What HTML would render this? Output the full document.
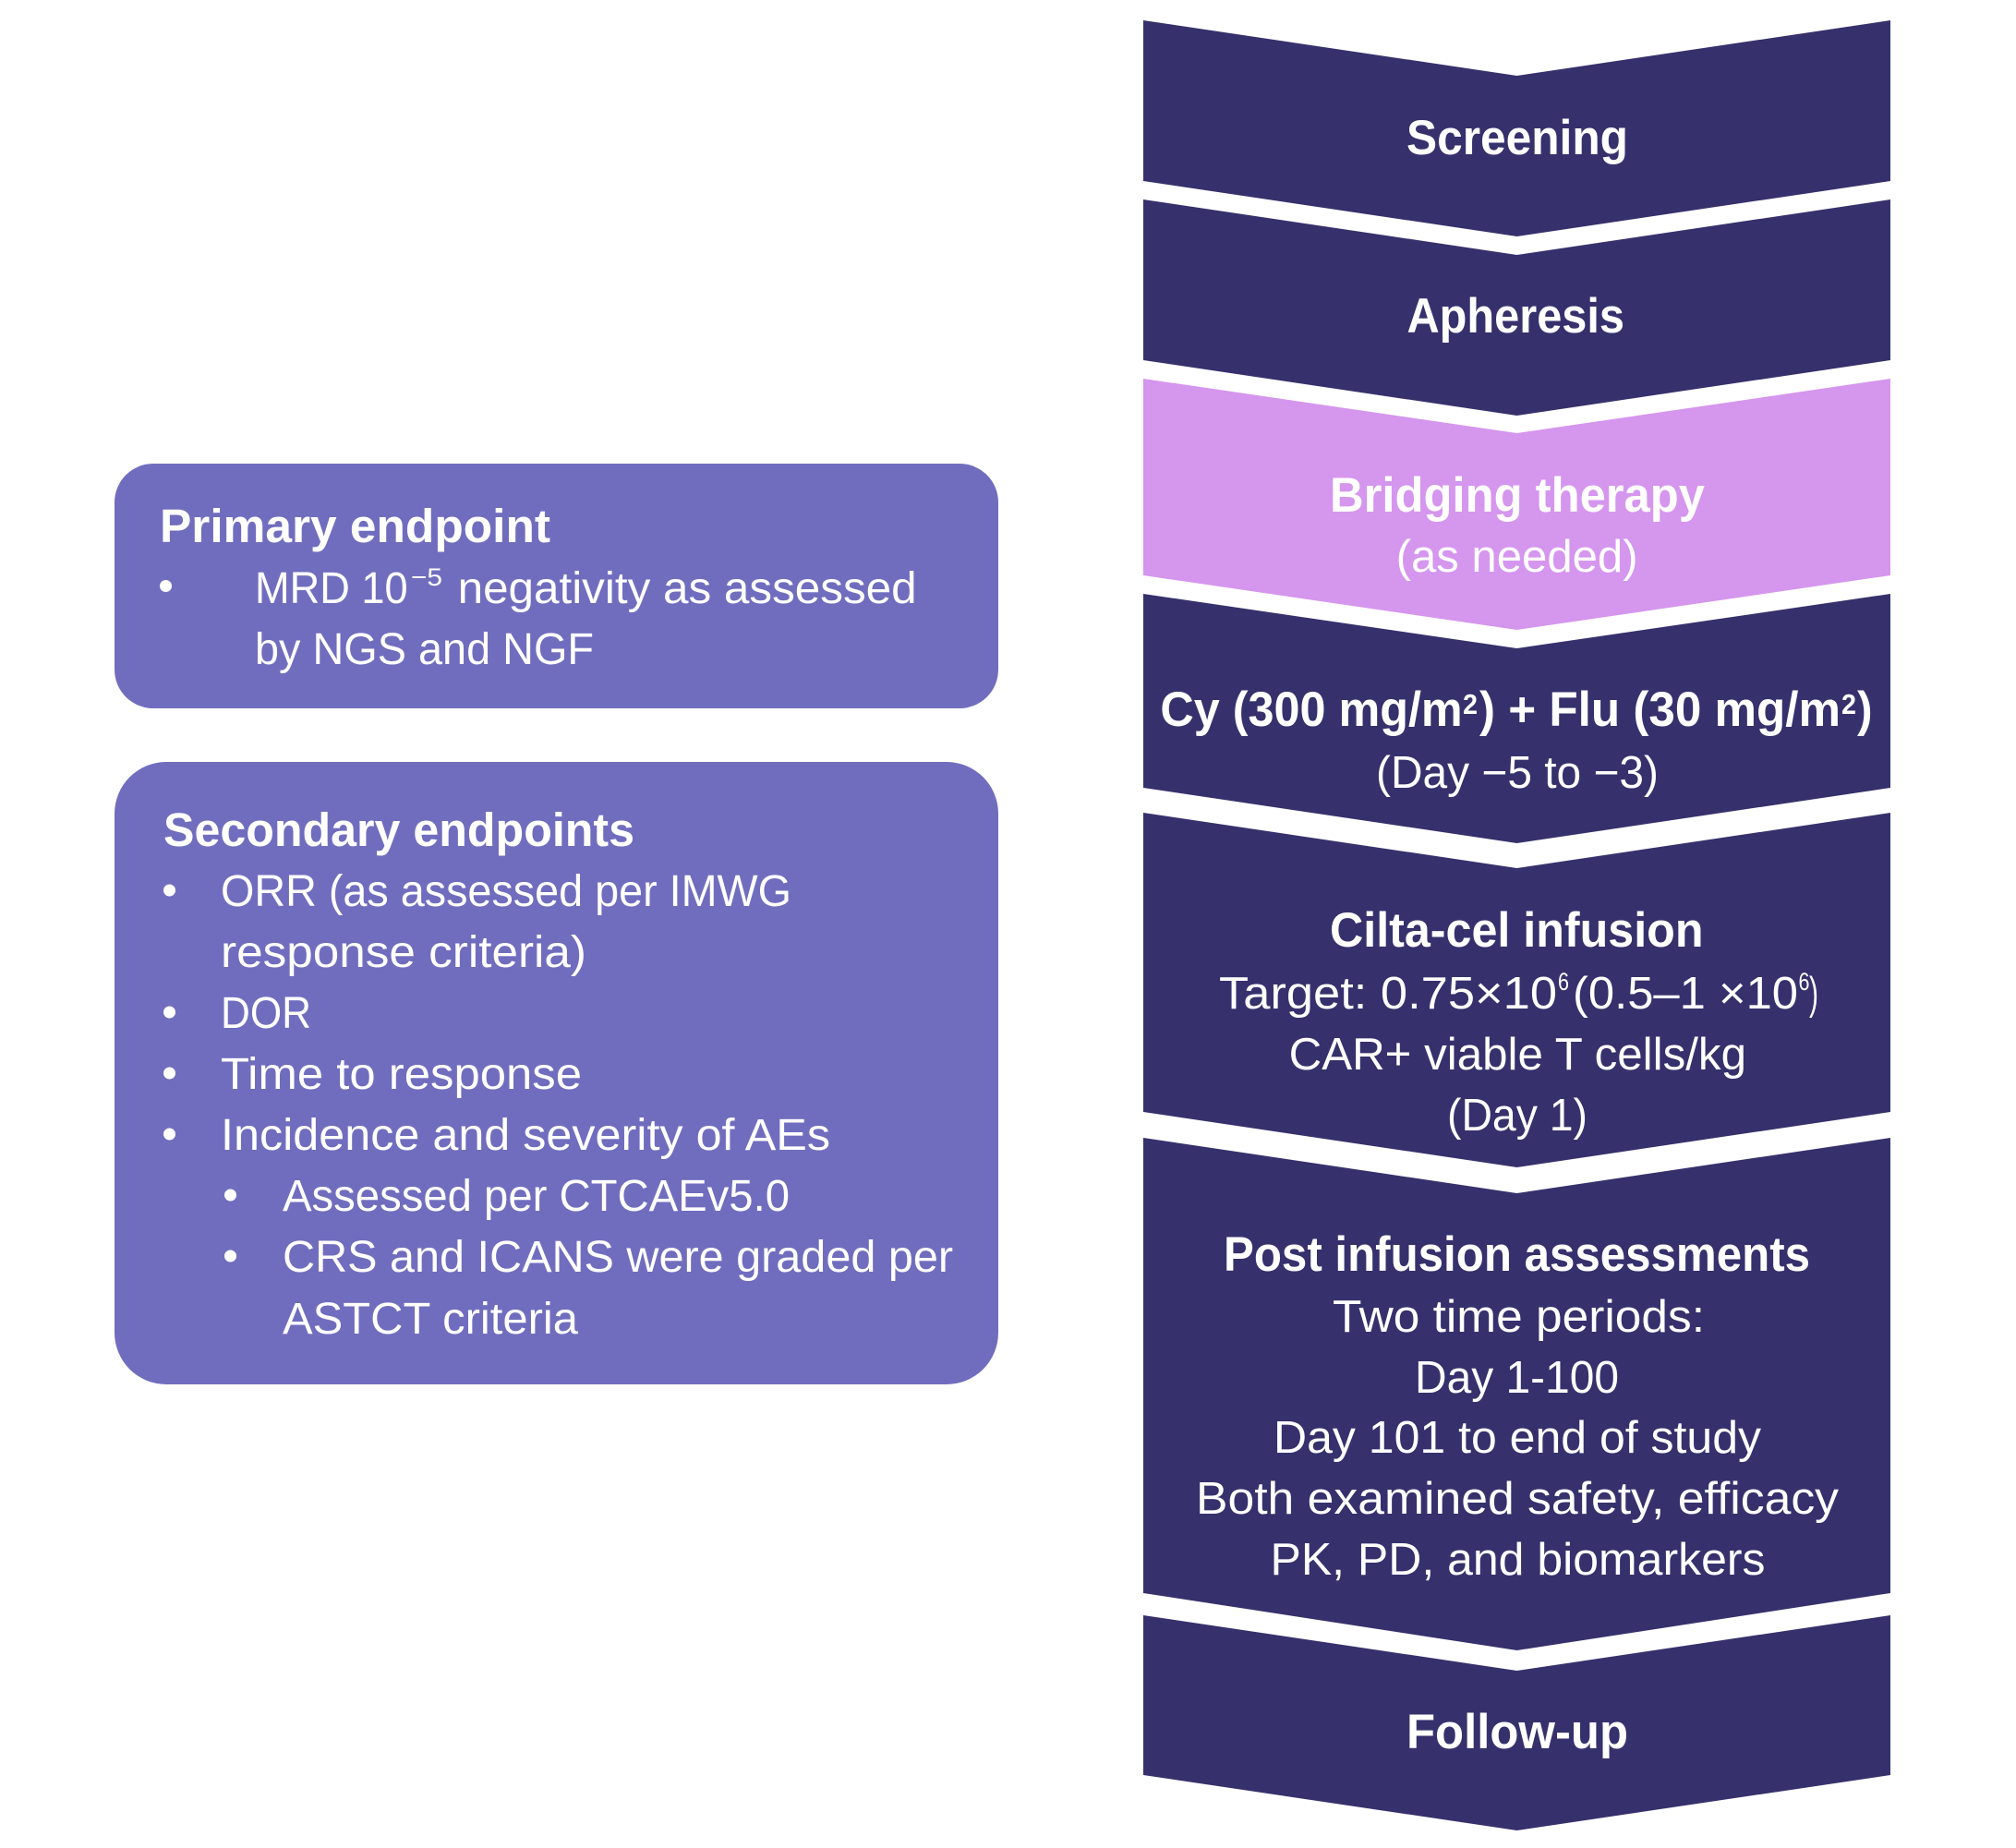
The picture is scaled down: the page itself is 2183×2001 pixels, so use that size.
<!DOCTYPE html>
<html>
<head>
<meta charset="utf-8">
<style>
  html,body{margin:0;padding:0;background:#ffffff;}
  svg{display:block;}
  text{font-family:"Liberation Sans", Arial, sans-serif; fill:#ffffff;}
  .b{font-weight:700;}
</style>
</head>
<body>
<svg width="2183" height="2001" viewBox="0 0 2183 2001" xmlns="http://www.w3.org/2000/svg">
  <rect x="0" y="0" width="2183" height="2001" fill="#ffffff"/>

  <!-- Left boxes -->
  <rect x="124" y="502" width="957" height="265" rx="42" ry="42" fill="#716dbe"/>
  <rect x="124" y="825" width="957" height="674" rx="56" ry="56" fill="#716dbe"/>

  <!-- Primary endpoint -->
  <text class="b" x="173" y="587" font-size="51" textLength="423" lengthAdjust="spacingAndGlyphs">Primary endpoint</text>
  <circle cx="179.5" cy="634.5" r="6.5" fill="#ffffff"/>
  <text x="276" y="653" font-size="48" textLength="165.6" lengthAdjust="spacingAndGlyphs">MRD 10</text>
  <text x="445" y="634" font-size="27" textLength="34" lengthAdjust="spacingAndGlyphs">−5</text>
  <text x="495.6" y="653" font-size="48" textLength="497" lengthAdjust="spacingAndGlyphs">negativity as assessed</text>
  <text x="276" y="719" font-size="48" textLength="367" lengthAdjust="spacingAndGlyphs">by NGS and NGF</text>

  <!-- Secondary endpoints -->
  <text class="b" x="177" y="916" font-size="51" textLength="510" lengthAdjust="spacingAndGlyphs">Secondary endpoints</text>

  <circle cx="183.5" cy="964" r="6.5" fill="#ffffff"/>
  <text x="239" y="981" font-size="48" textLength="618" lengthAdjust="spacingAndGlyphs">ORR (as assessed per IMWG</text>
  <text x="239" y="1047" font-size="48" textLength="396" lengthAdjust="spacingAndGlyphs">response criteria)</text>

  <circle cx="183.5" cy="1096" r="6.5" fill="#ffffff"/>
  <text x="239" y="1113" font-size="48" textLength="98" lengthAdjust="spacingAndGlyphs">DOR</text>

  <circle cx="183.5" cy="1162" r="6.5" fill="#ffffff"/>
  <text x="239" y="1179" font-size="48" textLength="391" lengthAdjust="spacingAndGlyphs">Time to response</text>

  <circle cx="183.5" cy="1228" r="6.5" fill="#ffffff"/>
  <text x="239" y="1245" font-size="48" textLength="660" lengthAdjust="spacingAndGlyphs">Incidence and severity of AEs</text>

  <circle cx="249.5" cy="1294" r="6.5" fill="#ffffff"/>
  <text x="306" y="1311" font-size="48" textLength="549" lengthAdjust="spacingAndGlyphs">Assessed per CTCAEv5.0</text>

  <circle cx="249.5" cy="1360" r="6.5" fill="#ffffff"/>
  <text x="306" y="1377" font-size="48" textLength="726" lengthAdjust="spacingAndGlyphs">CRS and ICANS were graded per</text>
  <text x="306" y="1444" font-size="48" textLength="320" lengthAdjust="spacingAndGlyphs">ASTCT criteria</text>

  <!-- Chevron column -->
  <polygon points="1238,22 1642.5,82 2047,22 2047,196 1642.5,256 1238,196" fill="#36316c"/>
  <polygon points="1238,216 1642.5,276 2047,216 2047,390 1642.5,450 1238,390" fill="#36316c"/>
  <polygon points="1238,410 1642.5,469 2047,410 2047,623 1642.5,682 1238,623" fill="#d596ee"/>
  <polygon points="1238,643 1642.5,702 2047,643 2047,853 1642.5,913 1238,853" fill="#36316c"/>
  <polygon points="1238,880 1642.5,940 2047,880 2047,1204 1642.5,1264 1238,1204" fill="#36316c"/>
  <polygon points="1238,1232 1642.5,1292 2047,1232 2047,1725 1642.5,1787 1238,1725" fill="#36316c"/>
  <polygon points="1238,1749 1642.5,1809 2047,1749 2047,1922 1642.5,1982 1238,1922" fill="#36316c"/>

  <!-- Chevron text -->
  <text class="b" x="1523" y="167" font-size="53" textLength="240" lengthAdjust="spacingAndGlyphs">Screening</text>
  <text class="b" x="1523.5" y="360" font-size="53" textLength="235.5" lengthAdjust="spacingAndGlyphs">Apheresis</text>

  <text class="b" x="1440" y="554" font-size="53" textLength="406" lengthAdjust="spacingAndGlyphs">Bridging therapy</text>
  <text x="1511.6" y="619" font-size="49" textLength="262" lengthAdjust="spacingAndGlyphs">(as needed)</text>

  <text class="b" x="1256.4" y="786" font-size="53" textLength="327.3" lengthAdjust="spacingAndGlyphs">Cy (300 mg/m</text>
  <text class="b" x="1584" y="773" font-size="31" textLength="16" lengthAdjust="spacingAndGlyphs">2</text>
  <text class="b" x="1602" y="786" font-size="53" textLength="391" lengthAdjust="spacingAndGlyphs">) + Flu (30 mg/m</text>
  <text class="b" x="1994" y="773" font-size="31" textLength="16" lengthAdjust="spacingAndGlyphs">2</text>
  <text class="b" x="2011" y="786" font-size="53" textLength="16.6" lengthAdjust="spacingAndGlyphs">)</text>
  <text x="1490" y="853" font-size="49" textLength="306" lengthAdjust="spacingAndGlyphs">(Day −5 to −3)</text>

  <text class="b" x="1440" y="1025" font-size="53" textLength="404.5" lengthAdjust="spacingAndGlyphs">Cilta-cel infusion</text>
  <text x="1320" y="1092" font-size="49" textLength="366" lengthAdjust="spacingAndGlyphs">Target: 0.75×10</text>
  <text x="1687" y="1072" font-size="27" textLength="12" lengthAdjust="spacingAndGlyphs">6</text>
  <text x="1703" y="1092" font-size="49" textLength="244" lengthAdjust="spacingAndGlyphs">(0.5–1 ×10</text>
  <text x="1947.5" y="1072" font-size="27" textLength="12" lengthAdjust="spacingAndGlyphs">6</text>
  <text x="1959" y="1092" font-size="49" textLength="10" lengthAdjust="spacingAndGlyphs">)</text>
  <text x="1395.6" y="1158" font-size="49" textLength="495.4" lengthAdjust="spacingAndGlyphs">CAR+ viable T cells/kg</text>
  <text x="1567" y="1224" font-size="49" textLength="152" lengthAdjust="spacingAndGlyphs">(Day 1)</text>

  <text class="b" x="1325" y="1376" font-size="53" textLength="635" lengthAdjust="spacingAndGlyphs">Post infusion assessments</text>
  <text x="1443" y="1442" font-size="49" textLength="403" lengthAdjust="spacingAndGlyphs">Two time periods:</text>
  <text x="1532" y="1508" font-size="49" textLength="221" lengthAdjust="spacingAndGlyphs">Day 1-100</text>
  <text x="1379" y="1573" font-size="49" textLength="528" lengthAdjust="spacingAndGlyphs">Day 101 to end of study</text>
  <text x="1295" y="1639" font-size="49" textLength="696" lengthAdjust="spacingAndGlyphs">Both examined safety, efficacy</text>
  <text x="1375.5" y="1705" font-size="49" textLength="536" lengthAdjust="spacingAndGlyphs">PK, PD, and biomarkers</text>

  <text class="b" x="1523" y="1893" font-size="53" textLength="240" lengthAdjust="spacingAndGlyphs">Follow-up</text>
</svg>
</body>
</html>
